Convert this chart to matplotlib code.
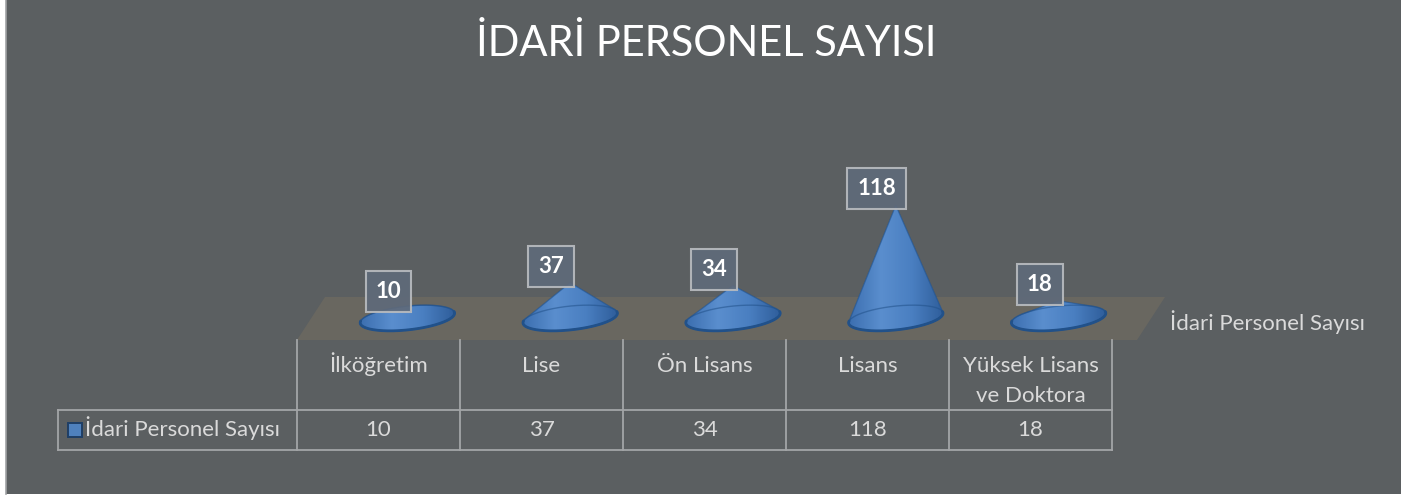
import matplotlib
matplotlib.use('Agg')
import matplotlib.pyplot as plt
import numpy as np
from matplotlib.patches import Polygon, Rectangle
from matplotlib.colors import LinearSegmentedColormap

categories = ['İlköğretim', 'Lise', 'Ön Lisans', 'Lisans', 'Yüksek Lisans\nve Doktora']
values = [10, 37, 34, 118, 18]
series_name = 'İdari Personel Sayısı'
title = 'İDARİ PERSONEL SAYISI'

FONT = ['Lato', 'DejaVu Sans']
plt.rcParams['font.family'] = FONT

W, H = 1411, 497
BG = '#5B5F61'
TXT = '#DADADA'
GRID = '#A3A5A7'
BLUE = '#4A7EBF'
DARK = '#21518A'
FS = 16

fig = plt.figure(figsize=(W / 100, H / 100), dpi=100)
fig.patch.set_facecolor('white')

# ---- background / layout axes in pixel coordinates
bg = fig.add_axes([0, 0, 1, 1])
bg.set_xlim(0, W)
bg.set_ylim(H, 0)
bg.axis('off')
bg.add_patch(Rectangle((6, 0), 1395, 494, facecolor=BG, edgecolor='none'))
bg.plot([5.5, 5.5], [0, 494], color='#A0A2A4', lw=1.2)

# title
bg.text(706, 44, title, ha='center', va='center', fontsize=30, color='white')

# floor plane
floor = Polygon([(325, 297), (1165, 297), (1137, 340), (297, 340)], closed=True,
                facecolor='#696760', edgecolor='none')
bg.add_patch(floor)

# right legend text
bg.text(1170, 322, series_name, ha='left', va='center', fontsize=FS, color=TXT)

# ---- data table
col0, colw = 297, 163
ncol = len(categories)
top, mid, bot = 340, 409.5, 450
left_tab = 58
right_tab = col0 + colw * ncol
for k in range(ncol + 1):
    x = col0 + colw * k
    bg.plot([x, x], [top, bot], color=GRID, lw=1.3)
bg.plot([left_tab, right_tab], [mid, mid], color=GRID, lw=1.3)
bg.plot([left_tab, right_tab], [bot, bot], color=GRID, lw=1.3)
bg.plot([left_tab, left_tab], [mid, bot], color=GRID, lw=1.3)
for k, (cat, v) in enumerate(zip(categories, values)):
    cx = col0 + colw * (k + 0.5)
    for j, line in enumerate(cat.split('\n')):
        bg.text(cx, 372 + 30 * j, line, ha='center', va='baseline', fontsize=FS, color=TXT)
    bg.text(cx, 436, str(v), ha='center', va='baseline', fontsize=FS, color=TXT)
bg.add_patch(Rectangle((68, 422.5), 13.5, 14, facecolor='#4F81BD', edgecolor='#1F3F66', lw=1.4))
bg.text(85, 436, series_name, ha='left', va='baseline', fontsize=FS, color=TXT)

# ---- cone axes (x = category index, y = value)
base_px = 318
px_per_unit = 0.955
vmax = 130
x_left_px, x_right_px = 326, 1140
ax = fig.add_axes([x_left_px / W, 1 - base_px / H, (x_right_px - x_left_px) / W,
                   (vmax * px_per_unit) / H])
ax.set_xlim(-0.5, ncol - 0.5)
ax.set_ylim(0, vmax)
ax.axis('off')
ax.patch.set_alpha(0)

a = 0.29     # half width of base ellipse (category units)
b = 12.5     # half height (value units)
k_tilt = 5.0


def hull(pts):
    pts = sorted(map(tuple, pts))
    def cross(o, p, q):
        return (p[0] - o[0]) * (q[1] - o[1]) - (p[1] - o[1]) * (q[0] - o[0])
    lower, upper = [], []
    for p in pts:
        while len(lower) >= 2 and cross(lower[-2], lower[-1], p) <= 0:
            lower.pop()
        lower.append(p)
    for p in reversed(pts):
        while len(upper) >= 2 and cross(upper[-2], upper[-1], p) <= 0:
            upper.pop()
        upper.append(p)
    return np.array(lower[:-1] + upper[:-1])


t = np.linspace(0, 2 * np.pi, 240)
tf = np.linspace(np.pi - 0.15, 2 * np.pi + 0.15, 140)   # front arc
grad = np.linspace(0, 1, 64)[None, :]
cmap = LinearSegmentedColormap.from_list('cone', ['#3C6FB0', '#5A8ECE', '#4A7FC1', '#2F5E9B'])

for i, v in enumerate(values):
    ex = i + a * np.cos(t)
    ey = b * np.sin(t) + k_tilt * np.cos(t)
    pts = np.column_stack([np.r_[ex, i], np.r_[ey, v]])
    hp = hull(pts)
    poly = Polygon(hp, closed=True, facecolor=BLUE, edgecolor='none', clip_on=False, zorder=2)
    ax.add_patch(poly)
    im = ax.imshow(grad, cmap=cmap, aspect='auto', zorder=3,
                   extent=[i - a, i + a, -b - k_tilt, max(v, b + k_tilt)])
    im.set_clip_box(fig.bbox)
    im.set_clip_path(poly)
    # base rim
    ax.plot(ex, ey, color=DARK, lw=1.0, alpha=0.55, zorder=4, clip_on=False)
    fx = i + a * np.cos(tf)
    fy = b * np.sin(tf) + k_tilt * np.cos(tf)
    ax.plot(fx, fy, color=DARK, lw=2.0, zorder=4, clip_on=False, solid_capstyle='round')
    ax.plot(np.r_[hp[:, 0], hp[0, 0]], np.r_[hp[:, 1], hp[0, 1]], color=DARK, lw=0.9,
            alpha=0.6, zorder=4, clip_on=False)

    ax.annotate(str(v), xy=(i, v), xytext=(-19, 6), textcoords='offset pixels',
                ha='center', va='bottom', fontsize=16, fontweight='bold', color='white',
                zorder=6, annotation_clip=False,
                bbox=dict(boxstyle='square,pad=0.45', fc='#5F6A7A', ec='#B8BBBF', lw=1.5,
                          alpha=0.92))
ax.set_xlim(-0.5, ncol - 0.5)
ax.set_ylim(0, vmax)

fig.savefig('out.png', dpi=100, facecolor=fig.get_facecolor())
